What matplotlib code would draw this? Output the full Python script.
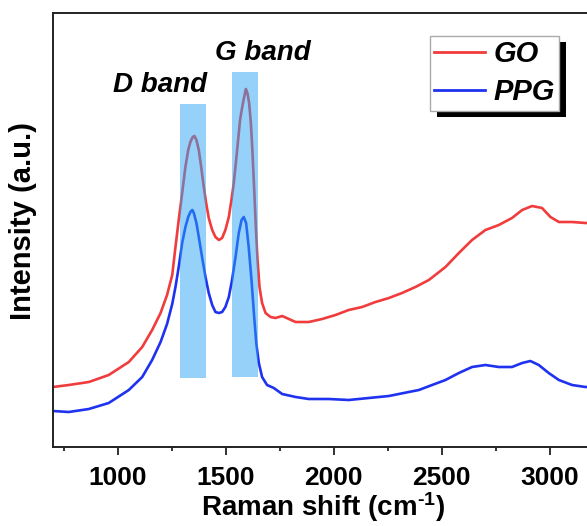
import numpy as np
import matplotlib
matplotlib.use('Agg')
import matplotlib.pyplot as plt
from matplotlib.patches import Rectangle

plt.rcParams['font.family'] = 'Liberation Sans'
plt.rcParams['font.weight'] = 'bold'
plt.rcParams['mathtext.fontset'] = 'custom'
plt.rcParams['mathtext.rm'] = 'Liberation Sans:bold'
plt.rcParams['mathtext.default'] = 'rm'

# Raman spectra
go_shift = [700, 773, 866, 958, 1051, 1113, 1159, 1198, 1228, 1252, 1267, 1282,
            1298, 1313, 1326, 1336, 1347, 1355, 1364, 1375, 1386, 1398, 1409,
            1421, 1437, 1452, 1468, 1483, 1498, 1514, 1526, 1537, 1548, 1557,
            1566, 1576, 1585, 1593, 1600, 1608, 1616, 1623, 1631, 1639, 1647,
            1656, 1668, 1684, 1707, 1730, 1761, 1823, 1884, 1946, 2008, 2069,
            2131, 2193, 2255, 2316, 2378, 2440, 2517, 2579, 2640, 2702, 2764,
            2825, 2872, 2918, 2964, 3003, 3042, 3103, 3165, 3200]
go_int = [60, 62, 65, 72, 85, 100, 117, 134, 152, 172, 200, 227,
          254, 280, 297, 305, 310, 311, 307, 297, 280, 260, 244,
          229, 217, 210, 207, 209, 217, 230, 247, 264, 287, 307,
          327, 340, 350, 358, 354, 344, 324, 297, 260, 220, 187,
          160, 144, 134, 130, 129, 131, 125, 125, 128, 132, 137,
          140, 145, 149, 154, 160, 167, 180, 194, 207, 217, 222,
          229, 237, 241, 239, 230, 225, 225, 224, 224]

ppg_shift = [700, 773, 866, 958, 1051, 1113, 1159, 1198, 1228, 1252, 1267, 1282,
             1298, 1313, 1326, 1336, 1345, 1352, 1364, 1375, 1390, 1406, 1421,
             1437, 1452, 1468, 1483, 1498, 1514, 1529, 1545, 1560, 1573, 1583,
             1594, 1606, 1619, 1630, 1641, 1653, 1668, 1691, 1722, 1761, 1823,
             1884, 1977, 2069, 2162, 2255, 2347, 2394, 2455, 2517, 2579, 2640,
             2702, 2764, 2825, 2872, 2910, 2949, 2995, 3042, 3103, 3165, 3200]
ppg_int = [36, 35, 38, 44, 57, 70, 87, 105, 123, 143, 160, 180,
           204, 220, 230, 235, 237, 234, 224, 210, 190, 170, 154,
           142, 135, 134, 135, 140, 150, 167, 190, 214, 227, 230,
           224, 200, 167, 134, 104, 84, 70, 62, 59, 53, 50,
           48, 48, 47, 49, 51, 55, 57, 62, 67, 74, 80,
           82, 80, 80, 84, 86, 82, 74, 67, 62, 60, 60]

# Highlighted D and G band regions: (start, end) in cm-1 and intensity range
band_names = ['D band', 'G band']
band_start = [1287, 1528]
band_end = [1407, 1648]
band_low = [69, 70]
band_high = [343, 375]

fig = plt.figure(figsize=(5.87, 5.26), dpi=100)
ax = fig.add_axes([53 / 587, 79 / 526, 540 / 587, 434 / 526])

ax.plot(go_shift, go_int, color='#F03C3C', lw=1.9, label='GO', zorder=2,
        solid_joinstyle='round')
ax.plot(ppg_shift, ppg_int, color='#1E32F0', lw=1.9, label='PPG', zorder=2,
        solid_joinstyle='round')

starts = np.array(band_start)
ends = np.array(band_end)
lows = np.array(band_low)
highs = np.array(band_high)
ax.bar((starts + ends) / 2, highs - lows, width=ends - starts, bottom=lows,
       color='#2DA5F5', alpha=0.5, zorder=3)

# band labels sit above the shaded strips
ax.text(1194, 355, band_names[0], fontsize=20, fontweight='bold',
        fontstyle='italic', ha='center', va='baseline')
ax.text(1671, 387, band_names[1], fontsize=20, fontweight='bold',
        fontstyle='italic', ha='center', va='baseline')

ax.set_xlim(700, 3200)
ax.set_ylim(0, 434)
ax.set_xticks([1000, 1500, 2000, 2500, 3000])
ax.set_xticks([750, 1250, 1750, 2250, 2750], minor=True)
ax.set_yticks([])
ax.tick_params(axis='x', which='major', direction='out', length=6, width=1.3,
               labelsize=19, pad=8, color='#222222')
ax.tick_params(axis='x', which='minor', direction='out', length=3, width=1.3,
               color='#222222')
for lbl in ax.get_xticklabels():
    lbl.set_fontweight('bold')

for side in ['left', 'top', 'bottom', 'right']:
    ax.spines[side].set_linewidth(1.4)
    ax.spines[side].set_color('#222222')

ax.set_xlabel(r'Raman shift (cm$^{\text{-}1}$)', fontsize=20, fontweight='bold',
              labelpad=0)
ax.set_ylabel('Intensity (a.u.)', fontsize=21, fontweight='bold')
ax.yaxis.set_label_coords(-0.03, 0.52)

leg = ax.legend(loc='upper left', bbox_to_anchor=(430 / 587, 1 - 36 / 526),
                bbox_transform=fig.transFigure, borderaxespad=0,
                fancybox=False, framealpha=1, edgecolor='#AAAAAA',
                prop={'size': 21, 'weight': 'bold', 'style': 'italic'},
                handlelength=1.75, handletextpad=0.27, labelspacing=0.34,
                borderpad=0.15)
leg.get_frame().set_linewidth(1.0)
for line in leg.get_lines():
    line.set_linewidth(2)

# solid black drop shadow behind the legend box
fig.canvas.draw()
bb = leg.get_window_extent().transformed(ax.transAxes.inverted())
ax.add_patch(Rectangle((bb.x0 + 7 / 540, bb.y0 - 6 / 434), bb.width, bb.height,
                       transform=ax.transAxes, facecolor='black',
                       edgecolor='none', zorder=4.5, clip_on=False))

fig.savefig('out.png', dpi=100)
